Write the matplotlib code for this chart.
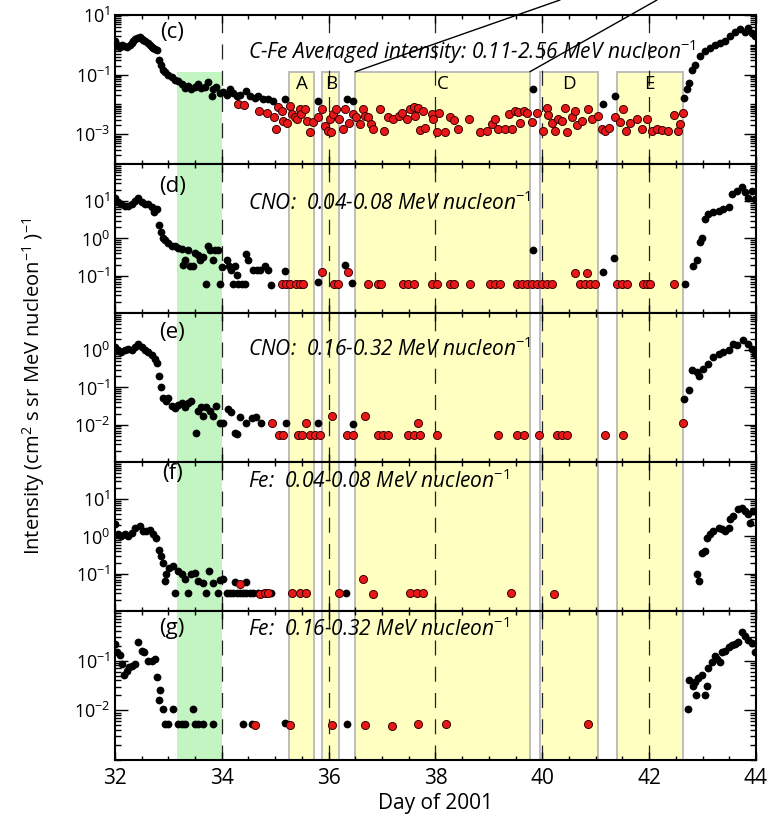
import numpy as np
import matplotlib
matplotlib.use('Agg')
import matplotlib.pyplot as plt
from matplotlib.ticker import FixedLocator, LogLocator, MultipleLocator, NullFormatter, FuncFormatter

plt.rcParams['font.family'] = ['Open Sans', 'DejaVu Sans']
plt.rcParams['mathtext.fontset'] = 'custom'
plt.rcParams['mathtext.rm'] = 'Open Sans'
plt.rcParams['mathtext.it'] = 'Open Sans:italic'

# shaded intervals (day of 2001)
green_band = (33.17, 34.0)
yellow_bands = [(35.26, 35.73), (35.88, 36.20), (36.50, 39.77), (39.95, 41.05), (41.39, 42.63)]
band_names = ['A', 'B', 'C', 'D', 'E']
dash_days = [34, 36, 38, 40, 42]

# (c) C-Fe averaged, log10 intensity
c_black_day = [32.00, 32.02, 32.04, 32.09, 32.13, 32.16, 32.22, 32.28, 32.31, 32.34, 32.38, 32.41, 32.46,
               32.50, 32.53, 32.56, 32.62, 32.65, 32.69, 32.72, 32.75, 32.79, 32.83, 32.87, 32.90, 32.93,
               32.99, 33.06, 33.12, 33.18, 33.25, 33.31, 33.37, 33.43, 33.49, 33.56, 33.62, 33.68, 33.74,
               33.81, 33.84, 33.90, 33.96, 34.03, 34.09, 34.15, 34.21, 34.28, 34.34, 34.46, 34.53, 34.62,
               34.68, 34.78, 34.87, 34.96, 35.18, 35.80, 36.34, 36.45, 39.83, 41.13, 41.36, 42.66, 42.71,
               42.74, 42.80, 42.86, 42.96, 43.05, 43.14, 43.24, 43.33, 43.42, 43.52, 43.61, 43.70, 43.80,
               43.86, 43.92, 43.99]
c_black_log = [0.11, -0.05, 0.00, -0.06, 0.00, -0.03, -0.06, 0.00, 0.05, 0.11, 0.18, 0.22, 0.26,
               0.19, 0.17, 0.11, 0.06, 0.00, -0.06, -0.10, -0.14, -0.17, -0.52, -0.67, -0.83, -0.92,
               -1.00, -1.08, -1.17, -1.22, -1.33, -1.44, -1.39, -1.48, -1.41, -1.33, -1.44, -1.41, -1.26,
               -1.72, -1.50, -1.41, -1.61, -1.59, -1.67, -1.50, -1.63, -1.72, -1.70, -1.56, -1.72, -1.78,
               -1.72, -1.81, -1.83, -1.89, -1.83, -1.89, -1.83, -1.89, -1.48, -2.00, -1.72, -1.78, -1.48,
               -1.28, -0.83, -0.67, -0.39, -0.22, -0.11, 0.00, 0.06, 0.11, 0.28, 0.44, 0.52, 0.44,
               0.56, 0.39, 0.28]
c_red_day = [34.31, 34.41, 34.69, 34.84, 34.97, 35.02, 35.06, 35.12, 35.15, 35.23, 35.28, 35.31, 35.37,
             35.40, 35.46, 35.49, 35.56, 35.59, 35.65, 35.71, 35.80, 35.87, 35.93, 35.99, 36.02, 36.05,
             36.08, 36.14, 36.19, 36.26, 36.30, 36.39, 36.46, 36.52, 36.58, 36.65, 36.68, 36.74, 36.79,
             36.84, 36.96, 37.03, 37.12, 37.21, 37.31, 37.37, 37.46, 37.52, 37.59, 37.62, 37.68, 37.71,
             37.77, 37.81, 37.93, 37.96, 38.02, 38.07, 38.18, 38.27, 38.34, 38.43, 38.62, 38.84, 38.96,
             39.05, 39.12, 39.18, 39.30, 39.37, 39.43, 39.49, 39.55, 39.58, 39.65, 39.71, 39.80, 39.90,
             40.01, 40.08, 40.11, 40.18, 40.24, 40.30, 40.36, 40.43, 40.46, 40.55, 40.61, 40.65, 40.74,
             40.86, 40.93, 41.05, 41.11, 41.18, 41.24, 41.36, 41.46, 41.52, 41.57, 41.64, 41.77, 41.86,
             41.96, 42.05, 42.14, 42.24, 42.36, 42.46, 42.55, 42.58, 42.63]
c_red_log = [-2.00, -2.03, -2.22, -2.28, -2.44, -2.83, -2.08, -2.22, -2.56, -2.63, -2.06, -2.33, -2.41,
             -2.48, -2.17, -2.33, -2.17, -2.56, -2.92, -2.59, -2.44, -2.14, -2.72, -2.89, -2.50, -2.94,
             -2.33, -2.14, -2.50, -2.83, -2.14, -2.61, -2.33, -2.44, -2.67, -2.14, -2.39, -2.44, -2.67,
             -2.83, -2.17, -2.89, -2.44, -2.50, -2.39, -2.28, -2.50, -2.17, -2.08, -2.39, -2.11, -2.86,
             -2.22, -2.78, -2.33, -2.50, -2.92, -2.28, -2.94, -2.44, -2.52, -2.83, -2.48, -2.94, -2.89,
             -2.67, -2.50, -2.83, -2.83, -2.33, -2.83, -2.22, -2.26, -2.61, -2.22, -2.28, -2.59, -2.28,
             -2.89, -2.11, -2.37, -2.63, -2.89, -2.50, -2.56, -2.11, -2.92, -2.44, -2.22, -2.70, -2.56,
             -2.17, -2.50, -2.39, -2.81, -2.89, -2.78, -2.44, -2.59, -2.17, -2.89, -2.61, -2.50, -2.83,
             -2.50, -2.89, -2.83, -2.86, -2.89, -2.37, -2.89, -2.67, -2.30]

# (d) CNO 0.04-0.08 MeV/n
d_black_day = [32.00, 32.06, 32.12, 32.19, 32.25, 32.31, 32.37, 32.44, 32.50, 32.56, 32.62, 32.69, 32.73,
               32.78, 32.83, 32.87, 32.90, 32.93, 32.99, 33.06, 33.12, 33.18, 33.25, 33.28, 33.31, 33.37,
               33.40, 33.46, 33.49, 33.56, 33.59, 33.65, 33.71, 33.74, 33.77, 33.84, 33.87, 33.93, 33.96,
               34.00, 34.09, 34.14, 34.18, 34.21, 34.24, 34.28, 34.31, 34.37, 34.43, 34.46, 34.49, 34.59,
               34.65, 34.71, 34.81, 34.87, 34.93, 35.18, 35.80, 36.30, 36.43, 39.83, 41.13, 41.35, 42.67,
               42.83, 42.89, 42.95, 42.99, 43.05, 43.11, 43.20, 43.30, 43.39, 43.49, 43.55, 43.64, 43.74,
               43.80, 43.86, 43.92, 43.99]
d_black_log = [1.10, 0.97, 0.92, 0.88, 0.88, 0.92, 1.01, 1.08, 0.99, 0.92, 0.92, 0.84, 0.70,
               0.79, 0.35, 0.17, 0.02, -0.05, -0.12, -0.19, -0.21, -0.25, -0.28, -0.72, -0.59, -0.30,
               -0.75, -0.75, -0.39, -0.45, -0.59, -0.50, -1.23, -0.21, -0.32, -0.59, -0.30, -0.32, -1.23,
               -0.76, -0.59, -0.75, -0.85, -1.21, -0.75, -0.99, -1.21, -1.21, -1.21, -0.41, -0.59, -0.85,
               -0.85, -0.85, -0.75, -0.85, -1.25, -0.87, -1.16, -0.72, -1.19, -0.30, -0.90, -0.52, -1.21,
               -0.75, -0.59, -0.10, 0.02, 0.52, 0.66, 0.70, 0.75, 0.79, 0.84, 1.19, 1.28, 1.37,
               1.24, 1.10, 1.28, 1.06]
d_red_day = [35.12, 35.21, 35.28, 35.38, 35.46, 35.52, 35.87, 36.11, 36.18, 36.37, 36.74, 36.93, 36.99,
             37.40, 37.49, 37.59, 37.93, 38.02, 38.27, 38.34, 38.65, 39.02, 39.12, 39.21, 39.52, 39.62,
             39.71, 39.80, 39.90, 39.99, 40.08, 40.18, 40.61, 40.83, 40.71, 40.80, 40.90, 40.99, 41.39,
             41.49, 41.58, 41.89, 41.96, 42.02, 42.46]
d_red_log = [-1.23, -1.23, -1.23, -1.23, -1.23, -1.23, -0.90, -1.23, -1.23, -0.90, -1.23, -1.23, -1.23,
             -1.23, -1.23, -1.23, -1.23, -1.23, -1.23, -1.23, -1.23, -1.23, -1.23, -1.23, -1.23, -1.23,
             -1.23, -1.23, -1.23, -1.23, -1.23, -1.23, -0.92, -0.92, -1.23, -1.23, -1.23, -1.23, -1.23,
             -1.23, -1.23, -1.23, -1.23, -1.23, -1.23]

# (e) CNO 0.16-0.32 MeV/n
e_black_day = [32.00, 32.06, 32.12, 32.19, 32.25, 32.31, 32.37, 32.44, 32.50, 32.56, 32.62, 32.69, 32.75,
               32.79, 32.83, 32.87, 32.90, 32.95, 32.99, 33.06, 33.12, 33.18, 33.25, 33.31, 33.37, 33.43,
               33.51, 33.56, 33.62, 33.65, 33.71, 33.77, 33.84, 33.90, 33.96, 34.03, 34.12, 34.18, 34.24,
               34.28, 34.34, 34.46, 34.56, 34.64, 34.74, 35.21, 35.80, 36.46, 42.66, 42.74, 42.80, 42.89,
               42.94, 43.00, 43.11, 43.20, 43.30, 43.39, 43.49, 43.57, 43.65, 43.76, 43.86, 43.92, 43.99]
e_black_log = [0.09, 0.00, -0.05, 0.00, 0.04, 0.00, 0.09, 0.16, 0.09, 0.00, -0.05, -0.14, -0.23,
               -0.34, -0.68, -0.99, -1.28, -1.37, -1.28, -1.49, -1.55, -1.46, -1.42, -1.53, -1.42, -1.37,
               -2.23, -1.62, -1.53, -1.76, -1.53, -1.62, -1.76, -1.49, -1.94, -1.94, -1.58, -1.67, -2.23,
               -2.25, -1.78, -1.94, -1.82, -1.78, -1.94, -1.96, -1.96, -1.98, -1.31, -1.08, -0.54, -0.59,
               -0.68, -0.50, -0.36, -0.18, -0.09, -0.05, 0.00, 0.18, 0.13, 0.27, 0.18, 0.04, -0.09]
e_red_day = [34.94, 35.08, 35.15, 35.43, 35.50, 35.58, 35.65, 35.75, 35.84, 36.06, 36.34, 36.46, 36.68,
             36.93, 37.01, 37.12, 37.49, 37.59, 37.68, 37.71, 38.02, 39.18, 39.52, 39.65, 39.93, 40.27,
             40.36, 40.46, 41.18, 41.52, 42.63]
e_red_log = [-1.96, -2.27, -2.27, -2.27, -2.27, -1.96, -2.27, -2.27, -2.27, -1.76, -2.27, -2.27, -1.76,
             -2.27, -2.27, -2.27, -2.27, -2.27, -1.96, -2.27, -2.27, -2.27, -2.27, -2.27, -2.27, -2.27,
             -2.27, -2.27, -2.27, -2.27, -1.96]

# (f) Fe 0.04-0.08 MeV/n
f_black_day = [32.00, 32.06, 32.12, 32.19, 32.25, 32.31, 32.37, 32.46, 32.53, 32.59, 32.65, 32.72, 32.77,
               32.83, 32.87, 32.90, 32.93, 32.96, 33.02, 33.09, 33.12, 33.18, 33.25, 33.31, 33.37, 33.43,
               33.49, 33.56, 33.65, 33.71, 33.76, 33.84, 33.93, 33.96, 34.03, 34.09, 34.15, 34.21, 34.24,
               34.28, 34.34, 34.40, 34.46, 34.46, 34.53, 34.59, 34.68, 34.78, 34.93, 36.32, 42.89, 42.94,
               42.99, 43.05, 43.08, 43.14, 43.20, 43.30, 43.36, 43.42, 43.49, 43.52, 43.58, 43.67, 43.74,
               43.80, 43.86, 43.89, 43.95]
f_black_log = [0.33, 0.06, 0.01, 0.06, 0.01, 0.10, 0.24, 0.28, 0.15, 0.15, 0.17, 0.06, -0.03,
               -0.36, -0.52, -0.70, -1.19, -1.02, -0.84, -0.79, -1.51, -0.93, -1.02, -1.15, -1.51, -1.02,
               -0.97, -1.19, -1.24, -1.51, -0.93, -1.24, -1.51, -1.17, -1.15, -1.51, -1.51, -1.51, -1.22,
               -1.51, -1.51, -1.51, -1.51, -1.22, -1.51, -1.51, -1.51, -1.51, -1.51, -1.51, -1.02, -1.20,
               -0.43, -0.39, -0.03, 0.06, 0.15, 0.24, 0.19, 0.15, 0.24, 0.46, 0.55, 0.73, 0.77,
               0.68, 0.60, 0.37, 0.68]
f_red_day = [34.34, 34.71, 34.81, 34.87, 35.31, 35.46, 35.58, 36.20, 36.64, 36.83, 37.52, 37.65, 37.77,
             39.42, 40.22]
f_red_log = [-1.28, -1.55, -1.51, -1.51, -1.51, -1.51, -1.51, -1.51, -1.15, -1.55, -1.51, -1.51, -1.51,
             -1.51, -1.55]

# (g) Fe 0.16-0.32 MeV/n
g_black_day = [32.00, 32.04, 32.09, 32.13, 32.17, 32.22, 32.27, 32.31, 32.37, 32.44, 32.50, 32.54, 32.62,
               32.69, 32.75, 32.78, 32.83, 32.85, 32.90, 32.93, 32.99, 33.08, 33.18, 33.25, 33.31, 33.46,
               33.49, 33.56, 33.65, 33.84, 34.40, 34.56, 35.18, 36.34, 42.72, 42.75, 42.82, 42.86, 42.88,
               42.92, 42.99, 43.05, 43.08, 43.11, 43.17, 43.24, 43.27, 43.33, 43.36, 43.42, 43.49, 43.55,
               43.61, 43.67, 43.74, 43.80, 43.86, 43.92, 43.99]
g_black_log = [-0.67, -0.83, -0.89, -1.07, -1.29, -1.20, -1.13, -1.10, -1.07, -0.63, -0.80, -0.83, -1.00,
               -1.00, -0.97, -1.33, -1.80, -1.60, -1.98, -2.27, -2.27, -1.98, -2.27, -2.27, -2.27, -1.98,
               -2.27, -2.27, -2.27, -2.27, -2.27, -2.27, -2.25, -2.28, -1.98, -1.38, -1.51, -1.42, -1.69,
               -1.35, -1.29, -1.69, -1.51, -1.15, -1.02, -0.90, -0.97, -1.03, -0.83, -0.80, -0.73, -0.69,
               -0.67, -0.62, -0.42, -0.50, -0.58, -0.65, -0.82]
g_red_day = [34.62, 35.28, 36.07, 36.68, 37.18, 37.68, 38.20, 40.86]
g_red_log = [-2.29, -2.29, -2.29, -2.29, -2.32, -2.28, -2.28, -2.28]

panels = [
    ('(c)', 'C-Fe Averaged intensity: 0.11-2.56 MeV nucleon$^{-1}$', (1e-4, 1e1), [1e1, 1e-1, 1e-3],
     c_black_day, c_black_log, c_red_day, c_red_log, 0.88, 0.753),
    ('(d)', 'CNO:  0.04-0.08 MeV nucleon$^{-1}$', (1e-2, 1e2), [1e1, 1e0, 1e-1],
     d_black_day, d_black_log, d_red_day, d_red_log, 0.85, 0.74),
    ('(e)', 'CNO:  0.16-0.32 MeV nucleon$^{-1}$', (1e-3, 1e1), [1e0, 1e-1, 1e-2],
     e_black_day, e_black_log, e_red_day, e_red_log, 0.87, 0.76),
    ('(f)', 'Fe:  0.04-0.08 MeV nucleon$^{-1}$', (1e-2, 1e2), [1e1, 1e0, 1e-1],
     f_black_day, f_black_log, f_red_day, f_red_log, 0.92, 0.87),
    ('(g)', 'Fe:  0.16-0.32 MeV nucleon$^{-1}$', (1e-3, 1e0), [1e-1, 1e-2],
     g_black_day, g_black_log, g_red_day, g_red_log, 0.88, 0.88),
]

yellow = '#ffffc2'
green = '#c2f5c2'
red = '#e81818'
band_top_c = 0.125

fig, axes = plt.subplots(5, 1, sharex=True, figsize=(7.69, 8.18), dpi=100)
fig.subplots_adjust(left=0.1495, right=0.983, top=0.9817, bottom=0.0709, hspace=0)

for i, (ax, p) in enumerate(zip(axes, panels)):
    lab, txt, ylim, yt, bd, bl, rd, rl, lab_y, txt_y = p
    ax.set_yscale('log')
    ax.set_ylim(*ylim)
    ax.set_xlim(32, 44)

    # height of the shaded bands (panel c stops below the curve)
    if i == 0:
        top = (np.log10(band_top_c) - np.log10(ylim[0])) / (np.log10(ylim[1]) - np.log10(ylim[0]))
    else:
        top = 1.0
    ax.axvspan(green_band[0], green_band[1], ymax=top, facecolor=green, edgecolor='none', zorder=0)
    for x0, x1 in yellow_bands:
        ax.axvspan(x0, x1, ymax=top, facecolor=yellow, edgecolor='#bdbdbd', lw=1.4, zorder=0)
    for d in dash_days:
        ax.axvline(d, color='#222222', lw=0.9, dashes=(12, 9), zorder=1)

    ax.plot(bd, 10 ** np.array(bl), 'o', color='black', ms=5.6, mew=0, zorder=3)
    ax.plot(rd, 10 ** np.array(rl), 'o', color=red, ms=5.8, mec='#3a0000', mew=0.7, zorder=4)

    tr = ax.get_xaxis_transform()
    ax.text(33.07, lab_y, lab, transform=tr, ha='center', va='center', fontsize=16, zorder=6)
    ax.text(34.49, txt_y, txt, transform=tr, ha='left', va='center', fontsize=15,
            style='italic', zorder=6)

    ax.yaxis.set_major_locator(FixedLocator(yt))
    ax.yaxis.set_major_formatter(FuncFormatter(lambda v, pos: r'$10^{%d}$' % round(np.log10(v))))
    ax.yaxis.set_minor_locator(LogLocator(base=10, subs=np.arange(1, 10), numticks=50))
    ax.yaxis.set_minor_formatter(NullFormatter())
    ax.xaxis.set_major_locator(MultipleLocator(2))
    ax.xaxis.set_minor_locator(MultipleLocator(0.5))
    ax.tick_params(which='both', direction='in', top=True, right=True, width=1.0)
    ax.tick_params(axis='y', which='major', length=9, labelsize=13, pad=3)
    ax.tick_params(axis='y', which='minor', length=4.5)
    ax.tick_params(axis='x', which='major', length=6, labelsize=15, pad=6)
    ax.tick_params(axis='x', which='minor', length=3)
    for s in ax.spines.values():
        s.set_linewidth(1.5)

# band letters and pointer lines in panel (c)
axc = axes[0]
for (x0, x1), name in zip(yellow_bands, band_names):
    axc.text((x0 + x1) / 2, 0.05, name, ha='center', va='center', fontsize=13.5, zorder=6)
c_left, c_right = yellow_bands[2]
for x_band, x_fig in [(c_left, 560 / 769), (c_right, 657 / 769)]:
    axc.annotate('', xy=(x_band, band_top_c), xytext=(x_fig, 1.0), textcoords='figure fraction',
                 arrowprops=dict(arrowstyle='-', color='black', lw=1.0, shrinkA=0, shrinkB=0),
                 annotation_clip=False)

fig.text(0.043, 0.527, 'Intensity (cm$^{2}$ s sr MeV nucleon$^{-1}$ )$^{-1}$', rotation=90,
         ha='center', va='center', fontsize=14.5)
fig.text(0.566, 0.018, 'Day of 2001', ha='center', va='center', fontsize=15)

fig.savefig('out.png', dpi=100)
